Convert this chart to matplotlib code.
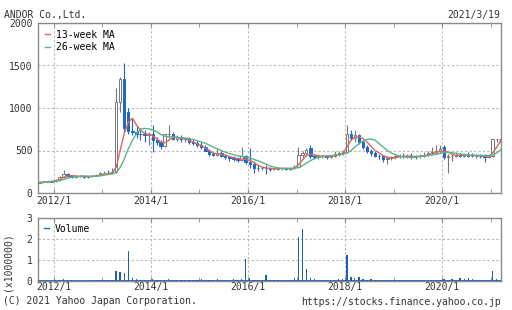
import matplotlib
matplotlib.use("Agg")
import matplotlib.pyplot as plt
import matplotlib.dates as mdates
import pandas as pd
from matplotlib.lines import Line2D

# monthly candles, 2011/9 .. 2021/3
months = pd.date_range("2011-09-01", "2021-03-01", freq="MS")

opens = [120, 125, 130, 135,
         140, 150, 190, 220, 200, 190, 200, 195, 190, 195, 205, 215,
         230, 240, 235, 245, 1065, 1345, 950, 730, 720, 700, 690, 680,
         700, 620, 600, 550, 690, 700, 640, 660, 630, 640, 600, 590,
         560, 540, 500, 460, 450, 470, 440, 420, 410, 400, 390, 430,
         370, 340, 300, 290, 300, 290, 280, 285, 290, 290, 285, 290,
         310, 450, 470, 525, 430, 420, 430, 430, 420, 440, 460, 470,
         480, 700, 650, 680, 600, 540, 500, 470, 440, 430, 400, 410,
         420, 430, 440, 430, 440, 420, 430, 440, 450, 470, 480, 500,
         540, 420, 430, 440, 450, 440, 450, 440, 430, 440, 430, 420,
         430, 630, 630]
highs = [135, 140, 140, 150,
         160, 200, 270, 240, 215, 210, 215, 210, 205, 215, 225, 245,
         260, 265, 300, 1240, 1360, 1530, 1000, 880, 790, 760, 740, 720,
         795, 660, 620, 700, 795, 720, 680, 680, 660, 660, 630, 620,
         600, 560, 520, 480, 525, 490, 460, 440, 430, 420, 540, 450,
         525, 360, 330, 320, 330, 310, 300, 300, 305, 300, 300, 330,
         540, 500, 530, 560, 460, 450, 450, 450, 450, 500, 500, 510,
         795, 740, 740, 700, 620, 560, 520, 490, 460, 440, 430, 440,
         450, 460, 470, 460, 470, 450, 460, 480, 500, 540, 560, 560,
         560, 460, 470, 480, 470, 470, 480, 470, 460, 460, 460, 450,
         640, 640, 640]
lows = [115, 120, 125, 130,
        135, 145, 180, 190, 180, 180, 185, 180, 180, 185, 195, 205,
        220, 225, 225, 235, 950, 720, 690, 680, 650, 620, 600, 560,
        480, 570, 520, 540, 650, 620, 610, 600, 600, 580, 560, 540,
        520, 490, 440, 430, 440, 420, 400, 380, 380, 370, 380, 340,
        300, 235, 260, 270, 220, 260, 265, 270, 275, 275, 270, 280,
        300, 400, 430, 410, 400, 400, 410, 400, 410, 420, 440, 450,
        470, 620, 600, 580, 520, 470, 440, 420, 400, 370, 340, 390,
        400, 410, 410, 410, 400, 400, 410, 420, 430, 450, 460, 470,
        400, 235, 380, 420, 420, 420, 420, 420, 410, 410, 360, 410,
        420, 600, 600]
closes = [125, 130, 135, 140,
          150, 190, 220, 200, 190, 200, 195, 190, 195, 205, 215, 230,
          240, 235, 245, 1065, 1340, 760, 730, 720, 700, 690, 680, 700,
          620, 600, 550, 690, 700, 640, 660, 630, 640, 600, 590, 560,
          540, 500, 460, 450, 470, 440, 420, 410, 400, 390, 430, 370,
          340, 300, 290, 300, 290, 280, 285, 290, 290, 285, 290, 310,
          450, 470, 510, 430, 420, 430, 430, 420, 440, 460, 470, 480,
          700, 650, 680, 600, 540, 490, 470, 440, 430, 400, 410, 420,
          430, 440, 430, 440, 420, 430, 440, 450, 470, 480, 500, 520,
          420, 430, 440, 450, 440, 450, 440, 430, 440, 430, 420, 430,
          630, 630, 630]

ma13 = [125, 128, 132, 137,
        142, 158, 185, 200, 205, 200, 195, 195, 193, 195, 200, 210,
        222, 230, 236, 300, 500, 700, 830, 880, 800, 740, 700, 690,
        670, 640, 600, 590, 620, 650, 655, 645, 635, 620, 600, 580,
        560, 530, 500, 470, 460, 455, 445, 430, 415, 405, 400, 395,
        385, 360, 330, 305, 295, 290, 285, 285, 288, 288, 287, 292,
        330, 390, 440, 460, 450, 440, 430, 428, 430, 440, 455, 465,
        540, 620, 660, 660, 640, 600, 550, 500, 470, 440, 420, 415,
        415, 425, 432, 435, 433, 430, 432, 438, 448, 460, 475, 490,
        495, 480, 455, 440, 442, 444, 445, 443, 440, 438, 433, 428,
        470, 540, 610]
ma26 = [125, 127, 130, 133,
        137, 145, 160, 175, 185, 192, 198, 200, 198, 197, 198, 202,
        210, 218, 225, 240, 300, 400, 520, 620, 700, 750, 760, 755,
        745, 720, 690, 670, 660, 660, 655, 650, 645, 640, 630, 615,
        600, 585, 565, 540, 520, 500, 480, 465, 450, 440, 430, 420,
        410, 395, 380, 360, 340, 320, 305, 295, 290, 290, 290, 292,
        300, 320, 350, 380, 405, 420, 435, 438, 440, 443, 448, 455,
        470, 500, 540, 580, 610, 630, 635, 620, 580, 540, 500, 470,
        450, 435, 425, 420, 420, 425, 430, 435, 440, 448, 455, 465,
        475, 480, 475, 465, 458, 452, 447, 445, 443, 441, 440, 438,
        445, 470, 505]

volume = [.02, .02, .02, .03,
          .05, .06, .08, .04, .03, .02, .02, .02, .02, .02, .03, .03,
          .03, .03, .06, .5, .45, .4, 1.45, .12, .08, .06, .05, .07,
          .08, .05, .04, .06, .1, .05, .04, .04, .05, .03, .03, .04,
          .1, .05, .04, .05, .08, .04, .03, .04, .1, .04, .08, 1.05,
          .12, .06, .04, .05, .3, .04, .03, .03, .02, .03, .04, .15,
          2.1, 2.5, .55, .15, .08, .06, .05, .04, .05, .06, .08, .1,
          1.25, .2, .15, .18, .1, .06, .08, .05, .05, .06, .05, .04,
          .04, .04, .05, .04, .03, .04, .04, .03, .04, .05, .06, .04,
          .1, .06, .08, .06, .12, .1, .15, .1, .05, .04, .06, .05,
          .47, .1, .05]

x = mdates.date2num(months + pd.Timedelta(days=14))

BLUE = "#1f66c9"
GREY = "#8a8a8a"
TXT = "#333333"
plt.rcParams["font.family"] = ["DejaVu Sans Mono"]
plt.rcParams["font.size"] = 7

fig = plt.figure(figsize=(5.12, 3.10), dpi=100)
ax = fig.add_axes([38/512, 1-193/310, 463/512, 170/310])
axv = fig.add_axes([38/512, 1-281/310, 463/512, 63/310])

# candles
for xi, o, h, l, c in zip(x, opens, highs, lows, closes):
    up = c >= o
    col = "#777777" if up else BLUE
    ax.vlines(xi, l, h, color=col, linewidth=0.8, zorder=3)
    ax.bar(xi, max(abs(c - o), 5), width=18, bottom=min(o, c),
           facecolor="white" if up else BLUE, edgecolor=col,
           linewidth=0.7, zorder=4)

ax.plot(x, ma13, color="#d9685f", linewidth=1.0, zorder=5)
ax.plot(x, ma26, color="#5bb488", linewidth=1.0, zorder=5)

axv.bar(x, volume, width=10, color="#1b5fb5", zorder=3)
axv.axhline(0.01, color="#1b5fb5", linewidth=1.2, zorder=3)

xmin = mdates.date2num(pd.Timestamp("2011-09-05"))
xmax = mdates.date2num(pd.Timestamp("2021-03-19"))
major = [pd.Timestamp(f"{y}-01-01") for y in range(2012, 2022, 2)]
minor = [pd.Timestamp(f"{y}-01-01") for y in range(2013, 2022, 2)]

for a in (ax, axv):
    a.set_xlim(xmin, xmax)
    a.set_xticks(mdates.date2num(major))
    a.set_xticklabels([f"{d.year}/1" for d in major])
    a.set_xticks(mdates.date2num(minor), minor=True)
    a.tick_params(axis="x", which="both", direction="in", top=True,
                  length=3, color=GREY, labelcolor=TXT, pad=2)
    a.tick_params(axis="y", direction="in", length=0, labelcolor=TXT, pad=4)
    a.grid(True, which="major", color="#b8b8b8", linestyle=(0, (2, 2)),
           linewidth=0.8)
    a.set_axisbelow(True)
    for s in a.spines.values():
        s.set_color(GREY)
        s.set_linewidth(1.0)

ax.set_ylim(0, 2000)
ax.set_yticks([0, 500, 1000, 1500, 2000])
axv.set_ylim(0, 3)
axv.set_yticks([0, 1, 2, 3])
axv.tick_params(axis="x", pad=1)

ax.legend([Line2D([], [], color="#d9685f", lw=1), Line2D([], [], color="#5bb488", lw=1)],
          ["13-week MA", "26-week MA"], loc="upper left", frameon=False,
          handlelength=0.5, handletextpad=0.6, borderaxespad=0.3,
          labelspacing=0.25, fontsize=7)
axv.legend([Line2D([], [], color=BLUE, lw=1)], ["Volume"], loc="upper left",
           frameon=False, handlelength=0.5, handletextpad=0.6,
           borderaxespad=0.2, fontsize=7)

fig.text(4/512, 1-15/310, "ANDOR Co.,Ltd.", color=TXT, va="center", ha="left")
fig.text(500/512, 1-15/310, "2021/3/19", color=TXT, va="center", ha="right")
fig.text(3/512, 1-301/310, "(C) 2021 Yahoo Japan Corporation.", color=TXT,
         va="center", ha="left")
fig.text(501/512, 1-302/310, "https://stocks.finance.yahoo.co.jp", color=TXT,
         va="center", ha="right")
fig.text(8/512, 1-262/310, "(x1000000)", color=TXT, va="center", ha="center",
         rotation=90)

fig.savefig("out.png", dpi=100)
